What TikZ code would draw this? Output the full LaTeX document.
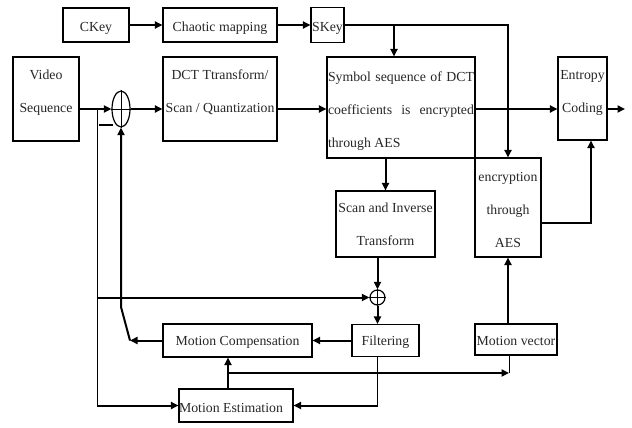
\documentclass[tikz,border=0pt]{standalone}
\usepackage{fontspec}
\setmainfont{Liberation Serif}
\usetikzlibrary{arrows.meta,shapes.geometric}
\begin{document}
\begin{tikzpicture}[x=1pt,y=-1pt,
  box/.style={draw, line width=1.1pt, inner sep=0pt},
  txt/.style={font=\fontsize{13.8}{33}\selectfont, inner sep=0pt, anchor=base, align=center, text=black!85},
  flow/.style={line width=2pt, -{Triangle[length=7.5pt,width=7pt]}},
  thinwire/.style={line width=0.9pt},
  summer/.style={draw, line width=1.2pt, inner sep=0pt}]
\useasboundingbox (0,0) rectangle (632,428);

% blocks
\node[box, minimum width=66pt,  minimum height=34pt] (ckey)  at (96,25)     {};
\node[box, minimum width=114pt, minimum height=34pt] (chaos) at (220,25)    {};
\node[box, minimum width=33pt,  minimum height=35pt] (skey)  at (327.5,25)  {};
\node[box, minimum width=66pt,  minimum height=84pt] (vs)    at (46,99)     {};
\node[box, minimum width=114pt, minimum height=84pt] (dct)   at (220,99)    {};
\node[box, minimum width=148pt, minimum height=101pt] (sym)  at (401,107.5) {};
\node[box, minimum width=49pt,  minimum height=83pt] (ent)   at (582.5,98.5) {};
\node[box, minimum width=66pt,  minimum height=99pt] (enc)   at (508,207.5) {};
\node[box, minimum width=99pt,  minimum height=66pt] (scan)  at (385.5,224)  {};
\node[box, minimum width=149pt, minimum height=33pt] (mc)    at (237.5,340.5) {};
\node[box, minimum width=67pt,  minimum height=32pt] (filt)  at (385.5,340.5) {};
\node[box, minimum width=82pt,  minimum height=31pt] (mv)    at (516,339.5) {};
\node[box, minimum width=114pt, minimum height=33pt] (me)    at (236,405.5) {};

% summing junctions
\node[summer, ellipse, minimum width=18pt, minimum height=36pt] (s1) at (121,109) {};
\draw[line width=1pt] (s1.north) -- (s1.south) (s1.west) -- (s1.east);
\node[summer, circle, minimum size=15pt] (s2) at (377.5,297.5) {};
\draw[line width=0.8pt] (s2.north) -- (s2.south) (s2.west) -- (s2.east);

% labels (multi-line labels sit on their last baseline)
\node[txt] (ckeyt)  at (96,32)    {CKey};
\node[txt] (chaost) at (220,32)   {Chaotic mapping};
\node[txt] (skeyt)  at (327.5,32) {SKey};
\node[txt] (vst)    at (46,113)   {Video\\Sequence};
\node[txt] (dctt)   at (220,113)  {DCT Ttransform/\\Scan / Quantization};
\node[txt, align=left] (symt) at (401,147)
  {\makebox[146pt][s]{Symbol sequence of DCT}\\
   \makebox[146pt][s]{coefficients is encrypted}\\
   \makebox[146pt][l]{through AES}};
\node[txt] (entt)   at (582.5,113) {Entropy\\Coding};
\node[txt] (enct)   at (508,247)  {encryption\\through\\AES};
\node[txt] (scant)  at (385.5,245) {Scan and Inverse\\Transform};
\node[txt] (mct)    at (237.5,345.5) {Motion Compensation};
\node[txt] (filtt)  at (385.5,345.5) {Filtering};
\node[txt] (mvt)    at (516,345.5) {Motion vector};
\node[txt] (met)    at (231,412)   {Motion Estimation};

% junction points
\coordinate (kb)   at (394,25);
\coordinate (tap)  at (97,109);
\coordinate (tapd) at (97,405.5);
\coordinate (out)  at (625,109);
\coordinate (ea)   at (591,223);
\coordinate (mcl)  at (130,340.5);
\coordinate (bend) at (121,307);
\coordinate (mj)   at (228,373);
\coordinate (mvj)  at (509,373);

% key path
\draw[flow] (ckey.east) -- (chaos.west);
\draw[flow] (chaos.east) -- (skey.west);
\draw[flow] (skey.east) -| (enc.north);
\draw[flow] (kb) -- (kb |- sym.north);

% forward path
\draw[flow] (vs.east |- s1) -- (s1.west);
\draw[flow] (s1.east) -- (s1.east -| dct.west);
\draw[flow] (dct.east |- s1) -- (sym.west |- s1);
\draw[flow] (sym.east |- s1) -- (ent.west |- s1);
\draw[flow] (ent.east |- s1) -- (out);
\draw[flow] (enc.east |- ea) -- (ea) -- (ea |- ent.south);
\draw[flow] (mv.north -| enc.south) -- (enc.south);

% reconstruction loop
\draw[flow] (scan.north |- sym.south) -- (scan.north);
\draw[flow] (s2.north |- scan.south) -- (s2.north);
\draw[flow] (s2.south) -- (s2.south |- filt.north);
\draw[flow] (filt.west) -- (mc.east);
\draw[flow] (mc.west) -- (mcl);
\draw[flow] (mcl) -- (bend) -- (s1.south);
\draw[line width=1.2pt] (99,125) -- (113,125);

% motion estimation
\draw[thinwire] (tap) -- (tapd);
\draw[flow] (tapd) -- (me.west);
\draw[flow] (tap |- s2) -- (s2.west);
\draw[thinwire] (s2.south |- filt.south) -- (s2.south |- me);
\draw[flow] (s2.south |- me) -- (me.east);
\draw[flow] (mj |- me.north) -- (mj |- mc.south);
\draw[flow] (mj) -- (mvj);
\draw[thinwire] (mvj) -- (mvj |- mv.south);
\end{tikzpicture}
\end{document}
